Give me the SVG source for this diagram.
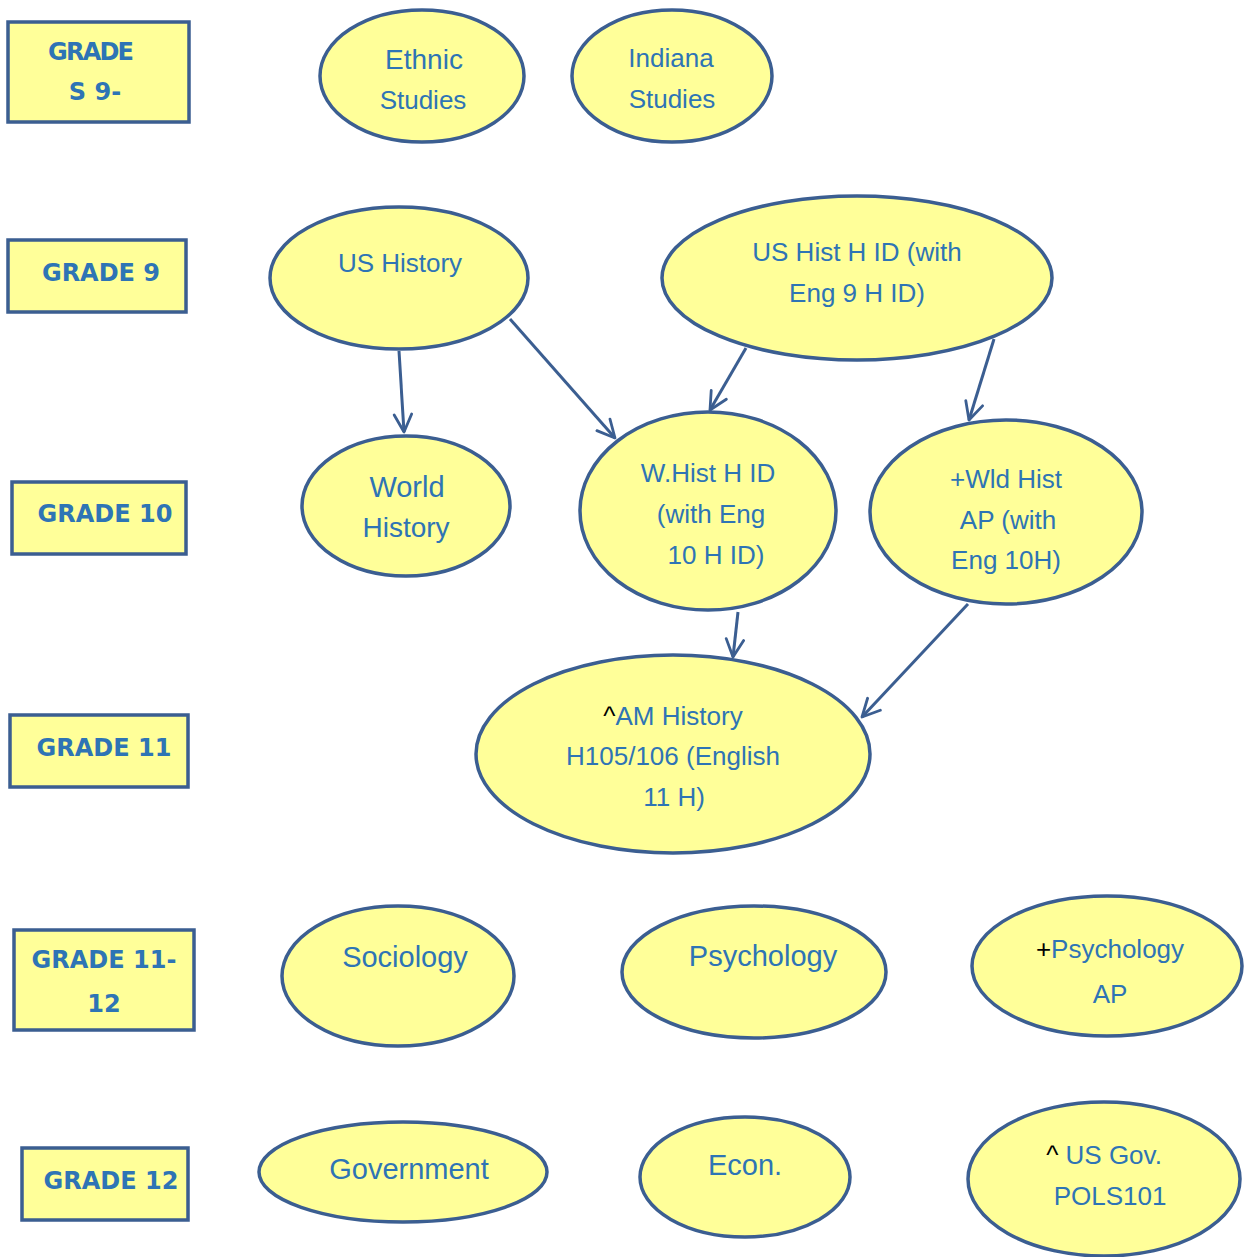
<svg xmlns="http://www.w3.org/2000/svg" width="1245" height="1257" viewBox="0 0 1245 1257">
<style>
.n{fill:#ffff99;stroke:#3b5e91;stroke-width:3.5}
.g{fill:#ffff99;stroke:#3b5e91;stroke-width:3.5}
.t{font-family:"Liberation Sans",Arial,sans-serif;font-size:26px;fill:#2e74b5;text-anchor:middle}
.b{font-size:29px}
.m{font-size:28px}
.gt{font-family:"DejaVu Sans",Verdana,sans-serif;font-weight:bold;font-size:24px;fill:#2e74b5;text-anchor:middle}
.k{fill:#000}
.c{stroke:#3b5e91;stroke-width:3;fill:none;marker-end:url(#a)}
</style>
<defs>
<marker id="a" viewBox="0 0 12 12" refX="11" refY="6" markerWidth="7" markerHeight="7" orient="auto" markerUnits="strokeWidth">
<path d="M1,1 L11,6 L1,11" fill="none" stroke="#3b5e91" stroke-width="1.6" stroke-linecap="round" stroke-linejoin="round"/>
</marker>
</defs>
<rect width="1245" height="1257" fill="#fff"/>
<g id="grades9-"><rect class="g" x="8" y="22" width="181" height="100"/><text class="gt" x="91" y="60" textLength="86">GRADE</text><text class="gt" x="95" y="100">S 9-</text></g>
<g id="grade9"><rect class="g" x="8" y="240" width="178" height="72"/><text class="gt" x="101" y="281">GRADE 9</text></g>
<g id="grade10"><rect class="g" x="12" y="482" width="174" height="72"/><text class="gt" x="105" y="522">GRADE 10</text></g>
<g id="grade11"><rect class="g" x="10" y="715" width="178" height="72"/><text class="gt" x="104" y="756">GRADE 11</text></g>
<g id="grade11-12"><rect class="g" x="14" y="930" width="180" height="100"/><text class="gt" x="104" y="968">GRADE 11-</text><text class="gt" x="104" y="1012">12</text></g>
<g id="grade12"><rect class="g" x="22" y="1148" width="166" height="72"/><text class="gt" x="111" y="1189">GRADE 12</text></g>

<g id="ethnic"><ellipse class="n" cx="422" cy="76" rx="102" ry="66"/><text class="t m" x="424" y="69">Ethnic</text><text class="t" x="423" y="109">Studies</text></g>
<g id="indiana"><ellipse class="n" cx="672" cy="76" rx="100" ry="66"/><text class="t" x="671" y="67">Indiana</text><text class="t" x="672" y="108">Studies</text></g>
<g id="ushistory"><ellipse class="n" cx="399" cy="278" rx="129" ry="71"/><text class="t" x="400" y="272">US History</text></g>
<g id="ushisthid"><ellipse class="n" cx="857" cy="278" rx="195" ry="82"/><text class="t" x="857" y="261">US Hist H ID (with</text><text class="t" x="857" y="302">Eng 9 H ID)</text></g>
<g id="worldhistory"><ellipse class="n" cx="406" cy="506" rx="104" ry="70"/><text class="t b" x="407" y="497">World</text><text class="t m" x="406" y="537">History</text></g>
<g id="whisthid"><ellipse class="n" cx="708" cy="511" rx="128" ry="99"/><text class="t" x="708" y="482">W.Hist H ID</text><text class="t" x="711" y="523">(with Eng</text><text class="t" x="716" y="564">10 H ID)</text></g>
<g id="wldhistap"><ellipse class="n" cx="1006" cy="512" rx="136" ry="92"/><text class="t" x="1006" y="488">+Wld Hist</text><text class="t" x="1008" y="529">AP (with</text><text class="t" x="1006" y="569">Eng 10H)</text></g>
<g id="amhistory"><ellipse class="n" cx="673" cy="754" rx="197" ry="99"/><text class="t" x="673" y="725"><tspan class="k">^</tspan>AM History</text><text class="t" x="673" y="765">H105/106 (English</text><text class="t" x="674" y="806">11 H)</text></g>
<g id="sociology"><ellipse class="n" cx="398" cy="976" rx="116" ry="70"/><text class="t b" x="405" y="967">Sociology</text></g>
<g id="psychology"><ellipse class="n" cx="754" cy="972" rx="132" ry="66"/><text class="t b" x="763" y="966">Psychology</text></g>
<g id="psychap"><ellipse class="n" cx="1107" cy="966" rx="135" ry="70"/><text class="t" x="1110" y="958"><tspan class="k">+</tspan>Psychology</text><text class="t" x="1110" y="1003">AP</text></g>
<g id="government"><ellipse class="n" cx="403" cy="1172" rx="144" ry="50"/><text class="t b" x="409" y="1179">Government</text></g>
<g id="econ"><ellipse class="n" cx="745" cy="1177" rx="105" ry="60"/><text class="t b" x="745" y="1175">Econ.</text></g>
<g id="usgov"><ellipse class="n" cx="1104" cy="1179" rx="136" ry="77"/><text class="t" x="1104" y="1164"><tspan class="k">^</tspan> US Gov.</text><text class="t" x="1110" y="1205">POLS101</text></g>

<g id="connectors">
<line class="c" x1="399" y1="351" x2="404" y2="432"/>
<line class="c" x1="510" y1="319" x2="615" y2="438"/>
<line class="c" x1="746" y1="348" x2="710" y2="410"/>
<line class="c" x1="994" y1="339" x2="969" y2="420"/>
<line class="c" x1="738" y1="612" x2="733" y2="657"/>
<line class="c" x1="968" y1="604" x2="862" y2="717"/>
</g>
</svg>
